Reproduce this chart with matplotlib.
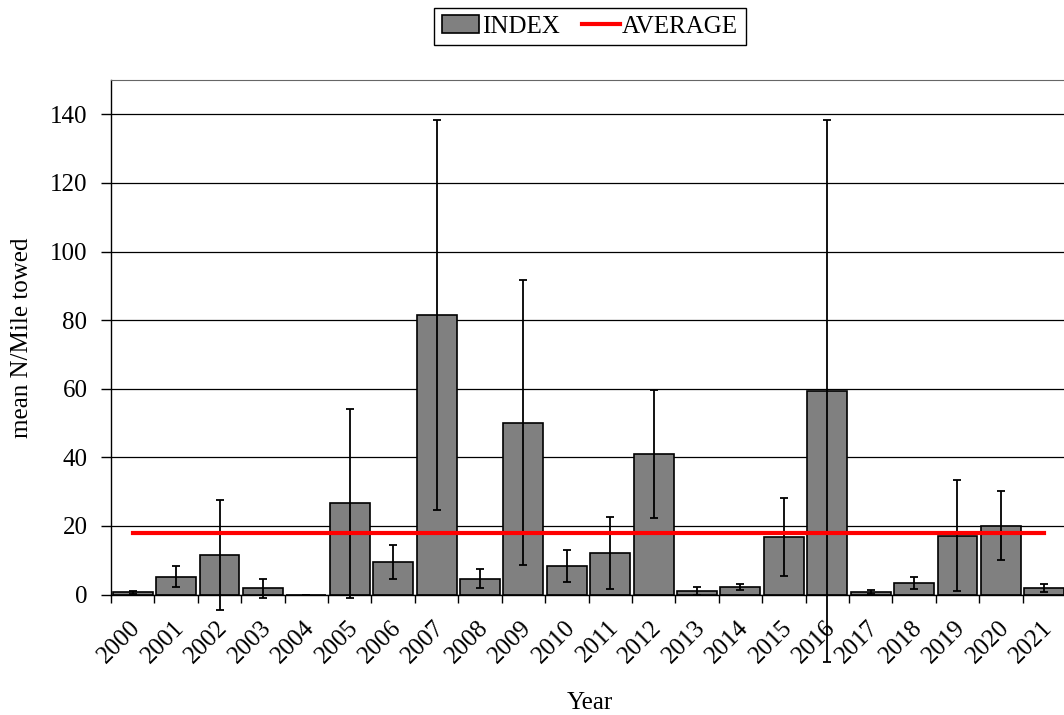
import numpy as np
import matplotlib
matplotlib.use("Agg")
import matplotlib.pyplot as plt
from matplotlib.ticker import FixedLocator
from matplotlib.transforms import ScaledTranslation

plt.rcParams['font.family'] = ['Liberation Serif', 'DejaVu Serif']

years = [str(y) for y in range(2000, 2022)]
index = [0.64, 5.2, 11.6, 1.8, 0.0, 26.6, 9.5, 81.4, 4.6, 50.1, 8.3,
         12.1, 41.0, 1.1, 2.3, 16.8, 59.3, 0.8, 3.4, 17.1, 20.1, 1.8]
index_err = [0.4, 3.0, 16.0, 2.7, 0.0, 27.5, 4.9, 56.9, 2.8, 41.5, 4.7,
             10.6, 18.6, 1.2, 0.9, 11.3, 79.0, 0.6, 1.8, 16.2, 10.1, 1.2]
average = 17.8


def main():
    fig = plt.figure(figsize=(10.64, 7.15), dpi=100)
    ax = fig.add_axes([111 / 1064, 1 - 594.5 / 715, 955 / 1064, 514.5 / 715])

    x = np.arange(len(years))
    bars = ax.bar(x, index, width=0.92, color='#808080', edgecolor='black',
                  linewidth=1.2, label='INDEX', zorder=2)
    eb = ax.errorbar(x, index, yerr=index_err, fmt='none', ecolor='black',
                     elinewidth=1.3, capsize=3, capthick=1.3, zorder=3)
    for art in eb.get_children():
        art.set_clip_on(False)
    avg_line, = ax.plot([x[0], x[-1]], [average, average], color='red', lw=3,
                        label='AVERAGE', zorder=4)

    ax.set_xlim(-0.5, len(years) - 0.5)
    ax.set_ylim(0, 150)
    ax.set_yticks(range(0, 141, 20))
    ax.yaxis.grid(True, color='black', lw=0.9)
    ax.set_axisbelow(True)
    ax.tick_params(axis='y', direction='out', length=7, width=1,
                   labelsize=18, pad=10)

    ax.set_xticks(x)
    ax.set_xticklabels(years, rotation=45, ha='right', va='top',
                       rotation_mode='anchor', fontsize=18)
    ax.tick_params(axis='x', which='major', length=0, pad=15)
    shift = ScaledTranslation(-3 / 100, -1 / 100, fig.dpi_scale_trans)
    for lab in ax.get_xticklabels():
        lab.set_transform(lab.get_transform() + shift)
    ax.xaxis.set_minor_locator(FixedLocator(np.arange(-0.5, len(years), 1.0)))
    ax.tick_params(axis='x', which='minor', direction='out', length=6, width=1)

    for side in ['left', 'bottom']:
        ax.spines[side].set_color('black')
        ax.spines[side].set_linewidth(1)
    ax.spines['top'].set_color('#666666')
    ax.spines['right'].set_visible(False)

    ax.set_ylabel('mean N/Mile towed', fontsize=18)
    ax.yaxis.set_label_coords(-78 / 955, 0.5)
    fig.text(590 / 1064, 1 - 703 / 715, 'Year', fontsize=18,
             ha='center', va='center')

    leg = fig.legend([bars, avg_line], ['INDEX', 'AVERAGE'], loc='center',
                     bbox_to_anchor=(590 / 1064, 1 - 26.5 / 715),
                     ncol=2, fontsize=18, frameon=True, fancybox=False,
                     edgecolor='black', framealpha=1, handlelength=1.5,
                     handletextpad=0.1, columnspacing=0.9, borderpad=0.3)
    leg.get_frame().set_linewidth(1)

    fig.savefig('out.png', dpi=100)


if __name__ == '__main__':
    main()
